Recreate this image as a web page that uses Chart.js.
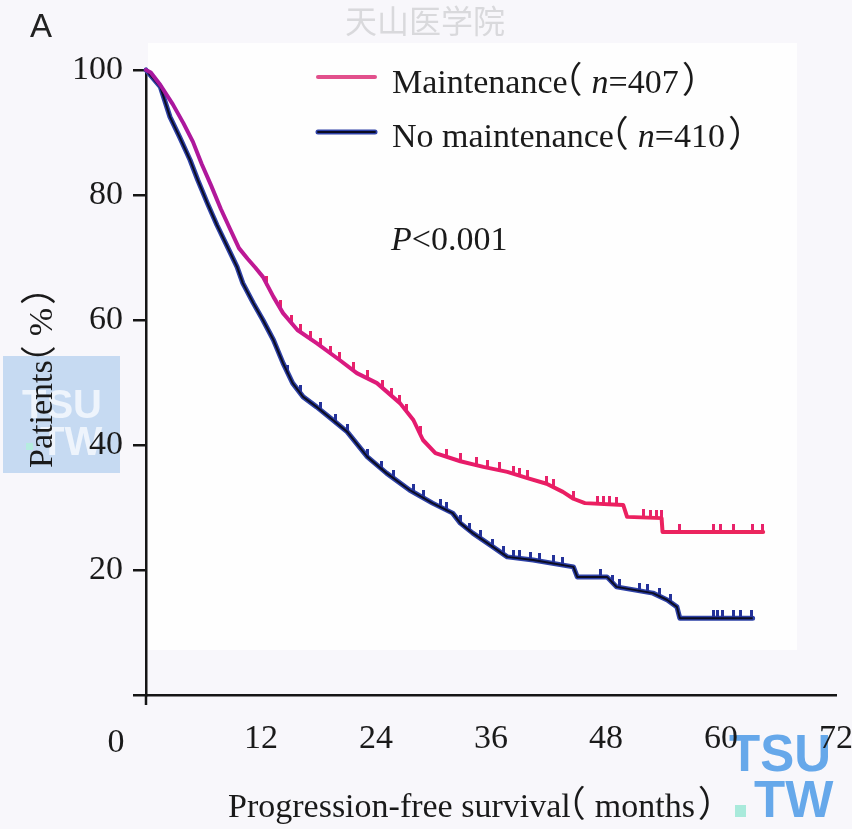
<!DOCTYPE html>
<html><head><meta charset="utf-8">
<script src="https://cdn.jsdelivr.net/npm/chart.js@4.4.0/dist/chart.umd.min.js"></script>
<style>html,body{margin:0;padding:0;background:#f8f7fb;}canvas{display:block;}</style>
</head><body>
<canvas id="c" width="852" height="829"></canvas>
<script>
// ---- data ----
const xTicks = [0, 12, 24, 36, 48, 60, 72];
const yTicks = [0, 20, 40, 60, 80, 100];
const seriesNames = ['Maintenance', 'No maintenance'];
const seriesN = ['407', '410'];
const pValueLabel = 'P<0.001';
const xTitle = 'Progression-free survival';
const xTitleUnit = 'months';
const yTitle = 'Patients';
const yTitleUnit = '%';

const maintTime = [0, 0.5, 1.5, 2.8, 3.9, 4.9, 5.8, 6.8, 7.8, 8.7, 9.7, 10.6, 11.4, 12.2, 13.3, 14.3, 15.8, 17.8, 20.2, 22.0, 24.1, 26.5, 27.9, 28.9, 30.2, 32.8, 35.2, 37.7, 39.8, 41.8, 43.5, 44.6, 45.8, 49.8, 50.2, 53.8, 53.9, 64.4];
const maintSurv = [100, 99.6, 97.6, 94.5, 91.5, 88.5, 85.0, 81.5, 77.8, 74.8, 71.5, 69.8, 68.4, 66.9, 63.7, 61.1, 58.4, 56.3, 53.6, 51.5, 49.9, 46.7, 44.0, 40.8, 38.7, 37.4, 36.5, 35.7, 34.7, 33.8, 32.5, 31.4, 30.7, 30.4, 28.5, 28.3, 26.1, 26.1];
const noMaintTime = [0, 1.5, 2.5, 3.5, 4.6, 5.4, 6.4, 7.4, 8.5, 9.5, 10.1, 11.2, 12.2, 13.3, 14.3, 15.3, 16.4, 17.8, 19.5, 21.0, 23.1, 25.1, 27.5, 29.9, 32.0, 32.8, 34.1, 36.2, 37.7, 40.4, 44.6, 45.0, 48.1, 49.1, 52.9, 54.4, 55.4, 55.7, 63.3];
const noMaintSurv = [100, 97.3, 92.5, 89.3, 85.6, 82.4, 78.7, 75.2, 71.7, 68.5, 65.9, 62.7, 60.0, 56.8, 53.1, 49.9, 47.7, 46.1, 44.0, 42.1, 38.1, 35.5, 32.8, 30.7, 29.1, 27.5, 25.9, 23.7, 22.1, 21.6, 20.5, 18.9, 18.9, 17.3, 16.3, 15.2, 14.1, 12.3, 12.3];
const maintCensor = [12.6, 14.0, 15.2, 16.1, 17.2, 18.2, 19.3, 20.2, 21.6, 23.1, 24.7, 25.6, 26.5, 27.2, 28.6, 31.4, 32.8, 34.5, 35.6, 36.9, 38.3, 39.0, 39.8, 41.8, 42.5, 44.6, 47.1, 47.7, 48.4, 49.1, 51.9, 52.6, 53.3, 53.8, 55.7, 59.2, 59.9, 61.3, 63.3, 64.3];
const noMaintCensor = [14.8, 16.1, 18.2, 19.8, 21.0, 23.1, 24.6, 25.8, 27.9, 29.0, 30.7, 31.4, 32.8, 33.8, 34.9, 36.2, 37.3, 38.3, 39.0, 40.1, 41.1, 42.5, 43.5, 47.4, 48.7, 49.4, 51.5, 52.3, 53.6, 54.7, 59.2, 59.6, 60.2, 61.3, 62.0, 63.2];

// ---- helpers ----
const SERIF = "'Liberation Serif','Times New Roman',serif";
const CJK = "'Noto Sans CJK SC','Noto Sans CJK JP',sans-serif";
const TXT = '#1a1a1a';
const PINK = '#e91d62';
const BLUE_OUT = '#2e41a6';
const BLUE_CORE = '#0b0c22';

function pts(ts, vs) { return ts.map((t, i) => ({x: t, y: vs[i]})); }
function survAt(ts, vs, t) {
  for (let i = ts.length - 1; i > 0; i--) {
    if (t >= ts[i - 1] && t <= ts[i]) {
      if (ts[i] === ts[i - 1]) return vs[i];
      const f = (t - ts[i - 1]) / (ts[i] - ts[i - 1]);
      return vs[i - 1] + f * (vs[i] - vs[i - 1]);
    }
  }
  return vs[vs.length - 1];
}
function censorImg(color) {
  const c = document.createElement('canvas');
  c.width = 3; c.height = 16;
  const g = c.getContext('2d');
  g.fillStyle = color;
  g.fillRect(0, 0, 3, 9);
  return c;
}
function drawRich(ctx, parts, x, y) {
  let cx = x;
  for (const p of parts) {
    ctx.font = p.font;
    const m = ctx.measureText(p.text);
    if (p.paren) {
      const inkW = m.actualBoundingBoxLeft + m.actualBoundingBoxRight;
      const left = cx + p.before;
      ctx.fillText(p.text, left + m.actualBoundingBoxLeft, y);
      cx = left + inkW + p.after;
    } else {
      ctx.fillText(p.text, cx, y);
      cx += m.width;
    }
  }
}
const F34 = '34px ' + SERIF;
const F34I = 'italic 34px ' + SERIF;
const FPAR = '36px ' + CJK;
function op() { return {text: '（', font: FPAR, paren: true, before: 4, after: 10}; }
function cp() { return {text: '）', font: FPAR, paren: true, before: 4, after: 0}; }

const pinkGradient = (ctx) => {
  const chart = ctx.chart;
  if (!chart.chartArea) return PINK;
  const xs = chart.scales.x;
  const g = chart.ctx.createLinearGradient(xs.getPixelForValue(0), 0, xs.getPixelForValue(72), 0);
  g.addColorStop(0, '#a6179f');
  g.addColorStop(0.1, '#b1189b');
  g.addColorStop(0.25, '#d61a86');
  g.addColorStop(0.4, '#e61a6c');
  g.addColorStop(0.65, '#eb1f60');
  g.addColorStop(1, '#ec2a5c');
  return g;
};

const decor = {
  id: 'decor',
  beforeDraw(chart) {
    const ctx = chart.ctx;
    ctx.save();
    ctx.fillStyle = '#f8f7fb';
    ctx.fillRect(0, 0, chart.width, chart.height);
    ctx.fillStyle = '#fefefe';
    ctx.fillRect(148, 43, 649, 607);
    // watermark top
    ctx.fillStyle = '#d9d9dc';
    ctx.font = '32px ' + CJK;
    ctx.textAlign = 'center';
    ctx.textBaseline = 'middle';
    ctx.fillText('天山医学院', 425, 21);
    // left watermark box
    ctx.fillStyle = '#c6daf2';
    ctx.fillRect(3, 356, 117, 117);
    ctx.fillStyle = '#eef4fc';
    ctx.font = 'bold 40px "Liberation Sans", sans-serif';
    ctx.textAlign = 'left';
    ctx.textBaseline = 'alphabetic';
    ctx.fillText('TSU', 22, 418);
    ctx.fillText('TW', 40, 455);
    ctx.fillStyle = '#b5ecdf';
    ctx.fillRect(26, 443, 7, 7);
    // bottom-right watermark
    ctx.fillStyle = '#66a8ea';
    ctx.font = 'bold 51px "Liberation Sans", sans-serif';
    ctx.fillText('TSU', 729, 771);
    ctx.fillText('TW', 754, 817);
    ctx.fillStyle = '#a9eadb';
    ctx.fillRect(735, 805, 11, 12);
    ctx.restore();
  },
  afterDraw(chart) {
    const ctx = chart.ctx;
    const xs = chart.scales.x, ys = chart.scales.y;
    const x0 = xs.getPixelForValue(0), y0 = ys.getPixelForValue(0);
    ctx.save();
    // y-axis extension below the x axis
    ctx.strokeStyle = '#151515';
    ctx.lineWidth = 2.5;
    ctx.beginPath();
    ctx.moveTo(x0, y0);
    ctx.lineTo(x0, y0 + 10);
    ctx.stroke();
    ctx.fillStyle = TXT;
    // "0" tick label
    ctx.font = F34;
    ctx.textAlign = 'center';
    ctx.textBaseline = 'alphabetic';
    ctx.fillText(String(xTicks[0]), x0 - 30, 752);
    ctx.textAlign = 'left';
    // panel letter
    ctx.font = '33px "Liberation Sans", sans-serif';
    ctx.fillStyle = '#222';
    ctx.fillText('A', 30, 37);
    ctx.fillStyle = TXT;
    // legend
    ctx.lineCap = 'round';
    ctx.lineWidth = 4;
    ctx.strokeStyle = '#e2508c';
    ctx.beginPath(); ctx.moveTo(318, 77); ctx.lineTo(375, 77); ctx.stroke();
    ctx.strokeStyle = BLUE_OUT; ctx.lineWidth = 5;
    ctx.beginPath(); ctx.moveTo(318, 132); ctx.lineTo(375, 132); ctx.stroke();
    ctx.strokeStyle = BLUE_CORE; ctx.lineWidth = 1.8;
    ctx.beginPath(); ctx.moveTo(318, 132); ctx.lineTo(375, 132); ctx.stroke();
    drawRich(ctx, [{text: seriesNames[0], font: F34}, op(), {text: 'n', font: F34I}, {text: '=' + seriesN[0], font: F34}, cp()], 392, 93);
    drawRich(ctx, [{text: seriesNames[1], font: F34}, op(), {text: 'n', font: F34I}, {text: '=' + seriesN[1], font: F34}, cp()], 392, 147);
    // p value
    drawRich(ctx, [{text: pValueLabel.charAt(0), font: F34I}, {text: pValueLabel.slice(1), font: F34}], 391, 250);
    // x title
    drawRich(ctx, [{text: xTitle, font: F34}, op(), {text: xTitleUnit, font: F34}, cp()], 228, 817);
    // y title (rotated)
    ctx.translate(52, 468);
    ctx.rotate(-Math.PI / 2);
    drawRich(ctx, [{text: yTitle, font: F34}, op(), {text: yTitleUnit, font: F34}, cp()], 0, 0);
    ctx.restore();
  }
};

new Chart(document.getElementById('c'), {
  type: 'line',
  data: {
    datasets: [
      {label: seriesNames[0], data: pts(maintTime, maintSurv), borderColor: pinkGradient, borderWidth: 4, pointRadius: 0, tension: 0, clip: false, borderJoinStyle: 'round', borderCapStyle: 'round'},
      {label: seriesNames[0] + ' censored', data: maintCensor.map(t => ({x: t, y: survAt(maintTime, maintSurv, t)})), showLine: false, pointStyle: censorImg('#e8226a'), pointRadius: 5, clip: false},
      {label: seriesNames[1] + ' core', data: pts(noMaintTime, noMaintSurv), borderColor: BLUE_CORE, borderWidth: 2, pointRadius: 0, tension: 0, clip: false, borderJoinStyle: 'round'},
      {label: seriesNames[1] + ' censored', data: noMaintCensor.map(t => ({x: t, y: survAt(noMaintTime, noMaintSurv, t)})), showLine: false, pointStyle: censorImg('#24329a'), pointRadius: 5, clip: false},
      {label: seriesNames[1], data: pts(noMaintTime, noMaintSurv), borderColor: BLUE_OUT, borderWidth: 5, pointRadius: 0, tension: 0, clip: false, borderJoinStyle: 'round', borderCapStyle: 'round'}
    ]
  },
  options: {
    responsive: false,
    animation: false,
    devicePixelRatio: 1,
    events: [],
    layout: {padding: {top: 70, right: 16, left: 0, bottom: 0}},
    plugins: {legend: {display: false}, tooltip: {enabled: false}},
    scales: {
      x: {
        type: 'linear', min: 0, max: 72,
        afterBuildTicks: s => { s.ticks = xTicks.map(v => ({value: v})); },
        afterFit: s => { s.height = 134; s.paddingLeft = 0; s.paddingRight = 0; },
        ticks: {font: {family: SERIF, size: 34}, color: TXT, padding: 24, maxRotation: 0, autoSkip: false,
                callback: v => (v === xTicks[0] ? '' : String(v))},
        grid: {display: false, drawTicks: false},
        border: {display: true, color: '#151515', width: 2.5}
      },
      y: {
        type: 'linear', min: 0, max: 100,
        afterBuildTicks: s => { s.ticks = yTicks.map(v => ({value: v})); },
        afterFit: s => { s.width = 146; s.paddingTop = 0; s.paddingBottom = 0; },
        ticks: {font: {family: SERIF, size: 34}, color: TXT, padding: 10,
                callback: v => (v === 0 ? '' : String(v))},
        grid: {drawOnChartArea: false, drawTicks: true, tickLength: 13, color: '#151515', lineWidth: 2.5},
        border: {display: true, color: '#151515', width: 2.5}
      }
    }
  },
  plugins: [decor]
});
</script>
</body></html>
